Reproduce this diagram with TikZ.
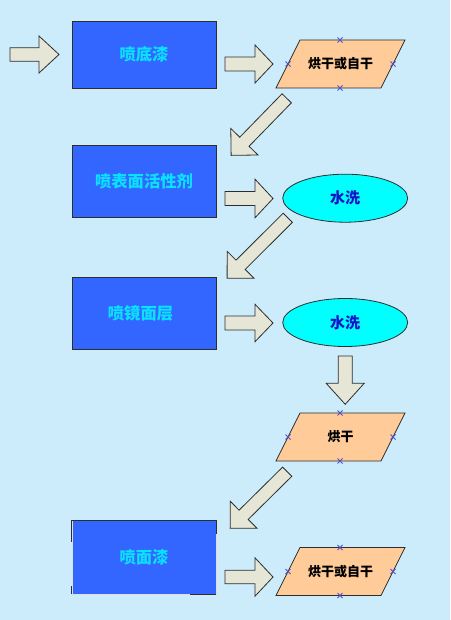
\documentclass[tikz,border=0pt]{standalone}
\usepackage{fontspec}
\newfontfamily\cjk{Noto Sans CJK SC}
\usetikzlibrary{shapes.geometric,calc}
\definecolor{bg}{RGB}{204,236,252}
\definecolor{boxblue}{RGB}{51,102,255}
\definecolor{boxtxt}{RGB}{10,225,255}
\definecolor{parafill}{RGB}{255,204,153}
\definecolor{elfill}{RGB}{0,255,255}
\definecolor{eltxt}{RGB}{20,20,200}
\definecolor{arrfill}{RGB}{230,230,214}
\definecolor{edge}{RGB}{45,45,45}
\definecolor{mark}{RGB}{80,80,200}
\newcommand\barrow[7]{%
  \pgfmathsetmacro\baAng{atan2(-(#4-#2),#3-#1)}%
  \pgfmathsetmacro\baLen{veclen(#3-#1,#4-#2)}%
  \pgfmathsetmacro\baNeck{\baLen-#7}%
  \begin{scope}[shift={(#1,#2)},rotate=\baAng]
    \draw[blockarrow] (0,-#5) -- (\baNeck,-#5) -- (\baNeck,-#6) -- (\baLen,0)
      -- (\baNeck,#6) -- (\baNeck,#5) -- (0,#5) -- cycle;
  \end{scope}}
\newcommand\paranode[4]{%
  \node[paratext] (#1) at (#2,#3) {#4};
  \draw[parashape] ($(#1)+(-40.5,-24)$) coordinate (#1tl) -- ($(#1)+(64.5,-24)$) coordinate (#1tr)
    -- ($(#1)+(40.5,24)$) coordinate (#1br) -- ($(#1)+(-64.5,24)$) coordinate (#1bl) -- cycle;
  \node[paratext] at (#1) {#4};
  \foreach \dx/\dy in {-0.5/-24,-0.5/24,-52.5/0,52.5/0}{
    \draw[markx] ($(#1)+(\dx,\dy)+(-2.5,-2.5)$) -- ($(#1)+(\dx,\dy)+(2.5,2.5)$)
                 ($(#1)+(\dx,\dy)+(-2.5,2.5)$) -- ($(#1)+(\dx,\dy)+(2.5,-2.5)$);
  }}
\tikzset{
  procbox/.style={draw=edge, line width=0.8pt, fill=boxblue, text=boxtxt,
    minimum width=144pt, inner sep=0pt, font=\cjk\bfseries\fontsize{16.3}{18}\selectfont},
  paratext/.style={inner sep=0pt, text=black, font=\cjk\bfseries\fontsize{13}{16}\selectfont},
  parashape/.style={draw=edge, line width=0.8pt, fill=parafill},
  markx/.style={draw=mark, line width=0.8pt},
  washel/.style={ellipse, draw=edge, line width=0.8pt, fill=elfill, text=eltxt,
    minimum width=125pt, minimum height=48pt, inner sep=0pt,
    font=\cjk\bfseries\fontsize{15}{17}\selectfont},
  blockarrow/.style={draw=edge, line width=0.8pt, fill=arrfill},
}
\begin{document}
\begin{tikzpicture}[x=1pt,y=-1pt]
\useasboundingbox (0,0) rectangle (450,620);
\fill[bg] (0,0) rectangle (450,620);

% process boxes
\node[procbox, minimum height=67pt] (b1) at (144,54.5) {喷底漆};
\node[procbox, minimum height=72.7pt] (b2) at (144,181.3) {喷表面活性剂};
\node[procbox, minimum height=71.7pt] (b3) at (144,313.2) {喷镜面层\hspace*{7pt}};
\node[procbox, minimum height=73.3pt, draw=white!75!gray] (b4) at (144,557.3) {喷面漆};
\draw[edge, line width=0.8pt] (b4.north west) -- (b4.north east)
  (b4.north west) -- ++(0,22) (b4.south west) -- ++(0,-8)
  (b4.north east) -- ++(0,14) (b4.south east) -- ++(-26,0);

% parallelograms
\paranode{p1}{340.5}{64}{烘干或自干}
\paranode{p3}{340.5}{437}{烘干}
\paranode{p4}{340.5}{571.5}{烘干或自干}

% ellipses
\node[washel] (e1) at (345.2,198.2) {水洗};
\node[washel] (e2) at (345.2,322.5) {水洗};

% block arrows
\barrow{10}{54.5}{59}{54.5}{6.7}{18.5}{20}
\barrow{225}{64}{273}{64}{7}{19}{18}
\barrow{225}{198.5}{273}{198.5}{7}{19.3}{18}
\barrow{225}{323}{273}{323}{7}{18.7}{18}
\barrow{225}{577}{273}{577}{6.7}{19.2}{18}
\barrow{345.2}{356}{345.2}{404.3}{7}{19}{21}
\barrow{286.7}{98.3}{231}{155.5}{6.5}{19}{19}
\barrow{287.8}{217.8}{227}{278.3}{6.5}{19}{19}
\barrow{287.2}{471.7}{230}{528.3}{6.5}{19}{19}
\end{tikzpicture}
\end{document}
